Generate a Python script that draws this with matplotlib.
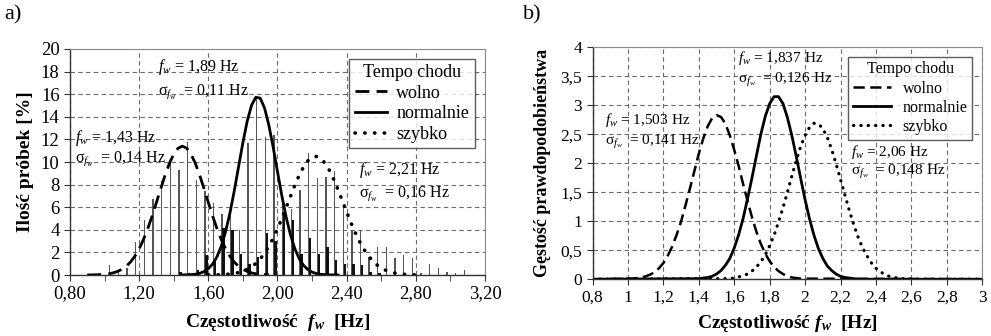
import numpy as np
import matplotlib
matplotlib.use("Agg")
import matplotlib.pyplot as plt
from matplotlib.ticker import FixedLocator, FuncFormatter

plt.rcParams['font.family'] = ['Liberation Serif', 'DejaVu Serif']
plt.rcParams['mathtext.fontset'] = 'custom'
plt.rcParams['mathtext.rm'] = 'Liberation Serif'
plt.rcParams['mathtext.it'] = 'Liberation Serif:italic'
plt.rcParams['mathtext.bf'] = 'Liberation Serif:bold'
plt.rcParams['mathtext.bfit'] = 'Liberation Serif:italic:bold'

# ---- panel a) histogram (szerokie i waskie slupki) ----
bins_a = [1.03, 1.08, 1.13, 1.18, 1.23, 1.28, 1.33, 1.38, 1.43, 1.48, 1.53, 1.58,
          1.63, 1.68, 1.73, 1.78, 1.83, 1.88, 1.93, 1.98, 2.03, 2.08, 2.13, 2.18,
          2.23, 2.28, 2.33, 2.38, 2.43, 2.48, 2.53, 2.58, 2.63, 2.68, 2.73, 2.78,
          2.83, 2.88, 2.93, 2.98, 3.03, 3.08]
h_thin = [0.9, 0.3, 0.6, 2.9, 4.9, 6.7, 8.3, 10.2, 9.3, 11.8, 8.4, 7.4,
          6.4, 5.4, 5.2, 4.0, 11.7, 15.6, 12.2, 12.4, 6.4, 5.8, 7.5, 10.8,
          8.6, 8.7, 9.2, 6.1, 4.0, 4.0, 1.6, 2.5, 2.5, 1.5, 1.8, 1.5,
          0.2, 1.0, 0.6, 0.3, 0.2, 0.4]
h_thick = [0.0, 0.0, 0.0, 0.0, 0.0, 0.0, 0.0, 0.0, 0.3, 0.2, 0.4, 1.8,
           1.2, 4.2, 4.0, 1.9, 1.0, 1.6, 3.7, 3.0, 5.5, 4.9, 1.9, 3.3,
           1.9, 2.5, 1.3, 1.0, 1.0, 0.9, 0.3, 0.2, 0.0, 0.0, 0.0, 0.0,
           0.0, 0.0, 0.0, 0.0, 0.0, 0.0]

# krzywe dopasowania, odczytane co 0.025 Hz
slow_a_x0, normal_a_x0, fast_a_x0 = 0.90, 1.45, 1.60
slow_a = [0.01, 0.01, 0.02, 0.04, 0.06, 0.11, 0.19, 0.32, 0.50, 0.77, 1.15, 1.66,
          2.31, 3.14, 4.11, 5.22, 6.42, 7.65, 8.83, 9.88, 10.69, 11.22, 11.40,
          11.22, 10.69, 9.88, 8.83, 7.65, 6.42, 5.22, 4.11, 3.14, 2.31, 1.66, 1.15,
          0.77, 0.50, 0.32, 0.19, 0.11, 0.06, 0.04, 0.02]
normal_a = [0.01, 0.02, 0.03, 0.07, 0.15, 0.30, 0.55, 0.97, 1.61, 2.55, 3.84, 5.48,
            7.44, 9.58, 11.72, 13.62, 15.02, 15.73, 15.65, 14.79, 13.27, 11.31, 9.15,
            7.03, 5.13, 3.56, 2.34, 1.46, 0.87, 0.49, 0.26, 0.13, 0.06, 0.03, 0.01,
            0.01, 0.00]
fast_a = [0.01, 0.01, 0.02, 0.03, 0.05, 0.09, 0.14, 0.22, 0.34, 0.50, 0.72, 1.03,
          1.42, 1.92, 2.53, 3.25, 4.08, 4.99, 5.97, 6.96, 7.93, 8.80, 9.54, 10.09,
          10.42, 10.49, 10.32, 9.90, 9.27, 8.47, 7.55, 6.57, 5.58, 4.62, 3.74, 2.95,
          2.27, 1.71, 1.25, 0.90, 0.63, 0.43, 0.28, 0.18, 0.12, 0.07, 0.04, 0.02, 0.01]

# ---- panel b) gestosc prawdopodobienstwa ----
slow_b_x0, normal_b_x0, fast_b_x0 = 1.00, 1.40, 1.55
slow_b = [0.01, 0.01, 0.02, 0.03, 0.05, 0.08, 0.12, 0.19, 0.28, 0.41, 0.57, 0.77,
          1.00, 1.28, 1.57, 1.87, 2.17, 2.43, 2.64, 2.78, 2.83, 2.80, 2.68, 2.48,
          2.23, 1.95, 1.64, 1.35, 1.07, 0.82, 0.61, 0.44, 0.31, 0.21, 0.14, 0.09,
          0.05, 0.03, 0.02, 0.01, 0.01]
normal_b = [0.01, 0.02, 0.03, 0.05, 0.09, 0.15, 0.24, 0.36, 0.54, 0.77, 1.05, 1.39,
            1.75, 2.13, 2.50, 2.81, 3.03, 3.15, 3.15, 3.03, 2.79, 2.48, 2.12, 1.74,
            1.37, 1.04, 0.76, 0.53, 0.36, 0.23, 0.15, 0.09, 0.05, 0.03, 0.02, 0.01,
            0.00]
fast_b = [0.01, 0.01, 0.02, 0.04, 0.06, 0.09, 0.14, 0.21, 0.30, 0.42, 0.58, 0.76,
          0.99, 1.23, 1.50, 1.78, 2.05, 2.29, 2.48, 2.62, 2.69, 2.68, 2.60, 2.45,
          2.24, 1.99, 1.72, 1.45, 1.18, 0.94, 0.72, 0.54, 0.40, 0.28, 0.19, 0.13,
          0.08, 0.05, 0.03, 0.02, 0.01, 0.01, 0.00]

labels = ['wolno', 'normalnie', 'szybko']
stats_a = [('1,43', '0,14'), ('1,89', '0,11'), ('2,21', '0,16')]
stats_b = [('1,503', '0,141'), ('1,837', '0,126'), ('2,06', '0,148')]


def xs(x0, vals, step=0.025):
    return x0 + step * np.arange(len(vals))


def comma(fmt):
    return FuncFormatter(lambda v, p: fmt(v).replace('.', ','))


def style_axes(ax):
    ax.grid(True, which='major', linestyle=(0, (4, 3)), color='#6b6b6b', linewidth=0.8)
    ax.set_axisbelow(True)
    for s in ['top', 'right']:
        ax.spines[s].set_color('#8a8a8a')
    for s in ['left', 'bottom']:
        ax.spines[s].set_color('#333333')
        ax.spines[s].set_linewidth(1.0)
    ax.tick_params(direction='out', length=4, color='#333333')


fig = plt.figure(figsize=(9.91, 3.36), dpi=100)

dash = (0, (5, 2.6))
dot = (0, (0.1, 2.6))

# ================= a) =================
ax = fig.add_axes([0.0706, 0.1815, 0.4188, 0.6727])
ax.bar(bins_a, h_thin, width=0.008, color='#555555', zorder=2)
ax.bar(np.array(bins_a) + 0.009, h_thick, width=0.014, color='#111111', zorder=2)
ax.plot(xs(slow_a_x0, slow_a), slow_a, color='black', lw=2.0, linestyle=dash,
        label=labels[0], zorder=3)
ax.plot(xs(normal_a_x0, normal_a), normal_a, color='black', lw=2.0, label=labels[1], zorder=3)
ax.plot(xs(fast_a_x0, fast_a), fast_a, color='black', lw=2.6, linestyle=dot,
        dash_capstyle='round', label=labels[2], zorder=3)
ax.set_xlim(0.8, 3.2)
ax.set_ylim(0, 20)
ax.xaxis.set_major_locator(FixedLocator([0.8 + 0.4 * i for i in range(7)]))
ax.xaxis.set_minor_locator(FixedLocator([1.0 + 0.4 * i for i in range(6)]))
ax.xaxis.set_major_formatter(comma(lambda v: f'{v:.2f}'))
ax.set_yticks(range(0, 21, 2))
style_axes(ax)
ax.tick_params(which='minor', direction='out', length=4, color='#333333')
ax.tick_params(labelsize=13.5)
ax.set_ylabel('Ilość próbek [%]', fontsize=14, fontweight='bold', labelpad=5)
ax.set_xlabel(r'Częstotliwość  $\mathbfit{f_w}$  [Hz]', fontsize=14,
              fontweight='bold', labelpad=7)
leg = ax.legend(title='Tempo chodu', loc='upper right', fontsize=13,
                title_fontsize=13, frameon=True, fancybox=False, edgecolor='#333333',
                handlelength=1.8, handletextpad=0.5, borderpad=0.3, labelspacing=0.2,
                bbox_to_anchor=(0.997, 0.997))
leg.get_frame().set_linewidth(1.0)

ann_pos_a = [(0.83, 12.1, 10.3), (1.31, 18.4, 16.2), (2.47, 9.3, 7.2)]
for (mu, sd), (x, y1, y2) in zip(stats_a, ann_pos_a):
    ax.text(x, y1, rf'$f_w$ = {mu} Hz', fontsize=11.5, va='center', zorder=4)
    ax.text(x, y2, rf'σ${{}}_{{f_w}}$  = {sd} Hz', fontsize=11.5, va='center', zorder=4)

# ================= b) =================
bx = fig.add_axes([0.598, 0.169, 0.3931, 0.690])
bx.plot([0.8] + list(xs(slow_b_x0, slow_b)) + [3.0], [0] + slow_b + [0],
        color='black', lw=1.8, linestyle=(0, (4.5, 2.2)), label=labels[0])
bx.plot([0.8] + list(xs(normal_b_x0, normal_b)) + [3.0], [0] + normal_b + [0],
        color='black', lw=2.0, label=labels[1])
bx.plot([0.8] + list(xs(fast_b_x0, fast_b)) + [3.0], [0] + fast_b + [0],
        color='black', lw=2.3, linestyle=(0, (0.1, 2.2)), dash_capstyle='round',
        label=labels[2])
bx.set_xlim(0.8, 3.0)
bx.set_ylim(0, 4)
bx.xaxis.set_major_locator(FixedLocator([0.8 + 0.2 * i for i in range(12)]))
bx.xaxis.set_major_formatter(comma(lambda v: f'{v:.1f}'.rstrip('0').rstrip('.')))
bx.yaxis.set_major_locator(FixedLocator([0.5 * i for i in range(9)]))
bx.yaxis.set_major_formatter(comma(lambda v: f'{v:.1f}'.rstrip('0').rstrip('.')))
style_axes(bx)
bx.tick_params(labelsize=12.5)
bx.set_ylabel('Gęstość prawdopodobieństwa', fontsize=13, fontweight='bold', labelpad=7)
bx.set_xlabel(r'Częstotliwość $\mathbfit{f_w}$  [Hz]', fontsize=14,
              fontweight='bold', labelpad=5)
leg = bx.legend(title='Tempo chodu', loc='upper right', fontsize=11.5,
                title_fontsize=11.5, frameon=True, fancybox=False, edgecolor='#333333',
                handlelength=2.4, handletextpad=0.7, borderpad=0.3, labelspacing=0.2,
                bbox_to_anchor=(0.995, 0.995))
leg.get_frame().set_linewidth(1.0)

ann_pos_b = [(0.87, 2.75, 2.37), (1.62, 3.82, 3.44), (2.26, 2.2, 1.85)]
for (mu, sd), (x, y1, y2) in zip(stats_b, ann_pos_b):
    bx.text(x, y1, rf'$f_w$ = {mu} Hz', fontsize=11, va='center')
    bx.text(x, y2, rf'σ${{}}_{{f_w}}$  = {sd} Hz', fontsize=11, va='center')

fig.text(0.004, 0.955, 'a)', fontsize=16, va='center')
fig.text(0.528, 0.955, 'b)', fontsize=16, va='center')

fig.savefig('out.png', dpi=100, facecolor='white')
